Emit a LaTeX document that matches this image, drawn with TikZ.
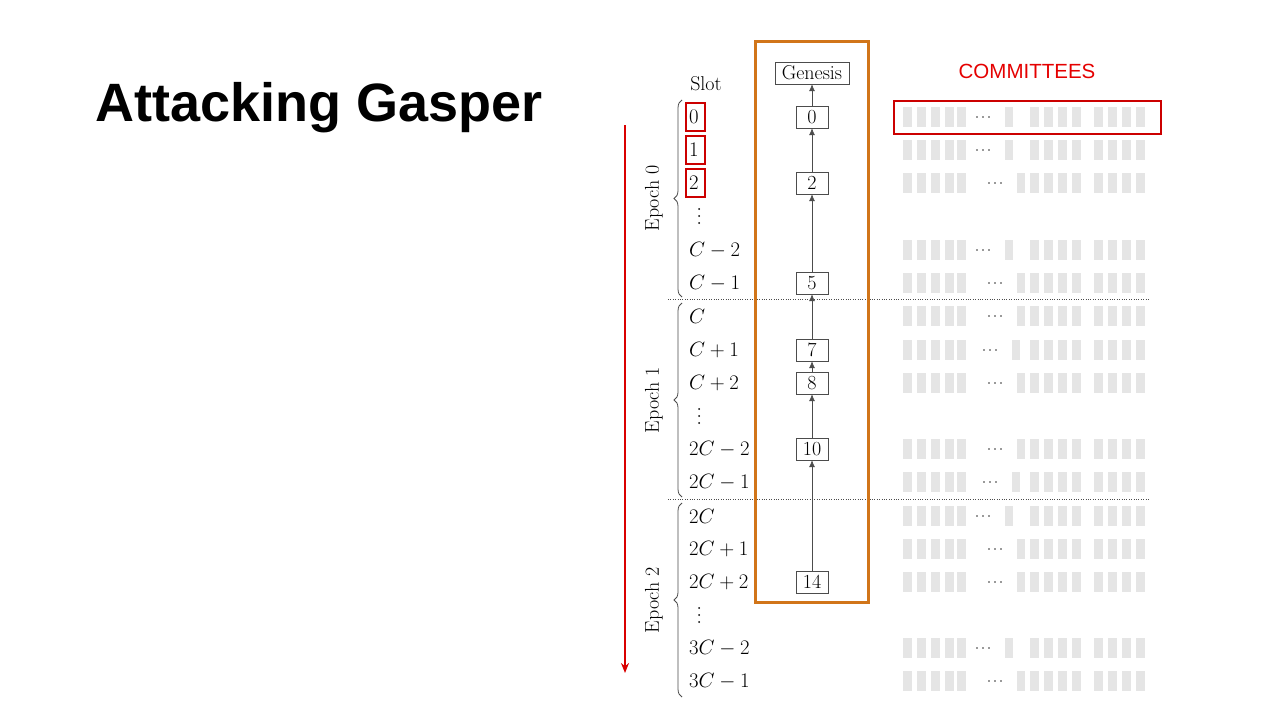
\documentclass[tikz,border=0pt]{standalone}
\usepackage{fontspec}
\newfontfamily\sans{Liberation Sans}
\usetikzlibrary{decorations.pathreplacing,arrows.meta}
\begin{document}
\begin{tikzpicture}[x=1pt,y=-1pt,
 slot/.style={anchor=west,font=\fontsize{20.5}{22}\selectfont,inner sep=1pt},
 blk/.style={draw=black!70,fill=white,font=\fontsize{20}{22}\selectfont,inner sep=2pt,minimum height=22,minimum width=32},
 ch/.style={-{Latex[length=7,width=6]},black!70,line width=0.7},
 cb/.style={fill=black!10,draw=none},
 redbox/.style={draw=red!80!black,line width=2}]
\useasboundingbox (0,0) rectangle (1280,720);
\fill[white] (0,0) rectangle (1280,720);
\node[anchor=west,font=\sans\bfseries\fontsize{54}{58}\selectfont] (title) at (92,108) {Attacking Gasper};
\node[font=\fontsize{20}{22}\selectfont] (slot) at (706,84) {Slot};
\node[font=\sans\fontsize{20.5}{24}\selectfont,text=red!90!black] (com) at (1027,71) {COMMITTEES};
% slots
\foreach \t/\y [count=\i] in {0/117,1/150,2/183,C-2/250,C-1/283,C/316,C+1/350,C+2/383,2C-2/449,2C-1/482,2C/516,2C+1/549,2C+2/582,3C-2/648,3C-1/681}
  \node[slot] (s\i) at (688,\y) {$\t$};
\foreach \y in {216,416,615} \foreach \k in {-7,0,7} \fill (699,\y+\k) circle (1);
\foreach \n/\y in {1/117,2/150,3/183} \draw[redbox] (686,\y-14) rectangle (705,\y+14);
% braces
\foreach \a/\b/\e in {100/297/0,303/497/1,503/697/2}{
  \draw[decorate,decoration={brace,amplitude=8},black!70,line width=0.8] (682,\b) -- (682,\a);
  \node[rotate=90,font=\fontsize{20}{22}\selectfont] at (654,{(\a+\b)/2}) {Epoch \e};}
\draw[dotted,black!70] (668,299) -- (1150,299);
\draw[dotted,black!70] (668,499) -- (1150,499);
\draw[red!85!black,line width=2,-{Stealth[length=10,width=8]}] (625,125) -- (625,673);
% chain
\node[blk,minimum width=74] (g) at (812,73) {Genesis};
\foreach \t/\y in {0/117,2/183,5/283,7/350,8/383,10/449,14/582} \node[blk] (b\t) at (812,\y) {\t};
\draw[ch] (b0) -- (g); \draw[ch] (b2) -- (b0); \draw[ch] (b5) -- (b2); \draw[ch] (b7) -- (b5);
\draw[ch] (b8) -- (b7); \draw[ch] (b10) -- (b8); \draw[ch] (b14) -- (b10);
\draw[draw=orange!80!black!90,line width=3] (755,41) rectangle (868,602);
% committees
\foreach \y/\d in {117/983,150/983,183/995,250/983,283/995,316/995,350/990,383/995,449/995,482/990,516/983,549/995,582/995,648/983,681/995}{
  \foreach \x in {903,917,931,945,957} \fill[cb] (\x,\y-10) rectangle ++(9,20);
  \foreach \k in {-6,0,6} \fill[black!80] (\d+\k,\y) circle (0.9);
  \foreach \x in {1030,1044,1058,1072,1094,1108,1122,1136} \fill[cb] (\x,\y-10) rectangle ++(9,20);
  \fill[cb] ({\d+22},\y-10) rectangle ++(8,20);}
\draw[redbox] (894,101) rectangle (1161,134);
\end{tikzpicture}
\end{document}
